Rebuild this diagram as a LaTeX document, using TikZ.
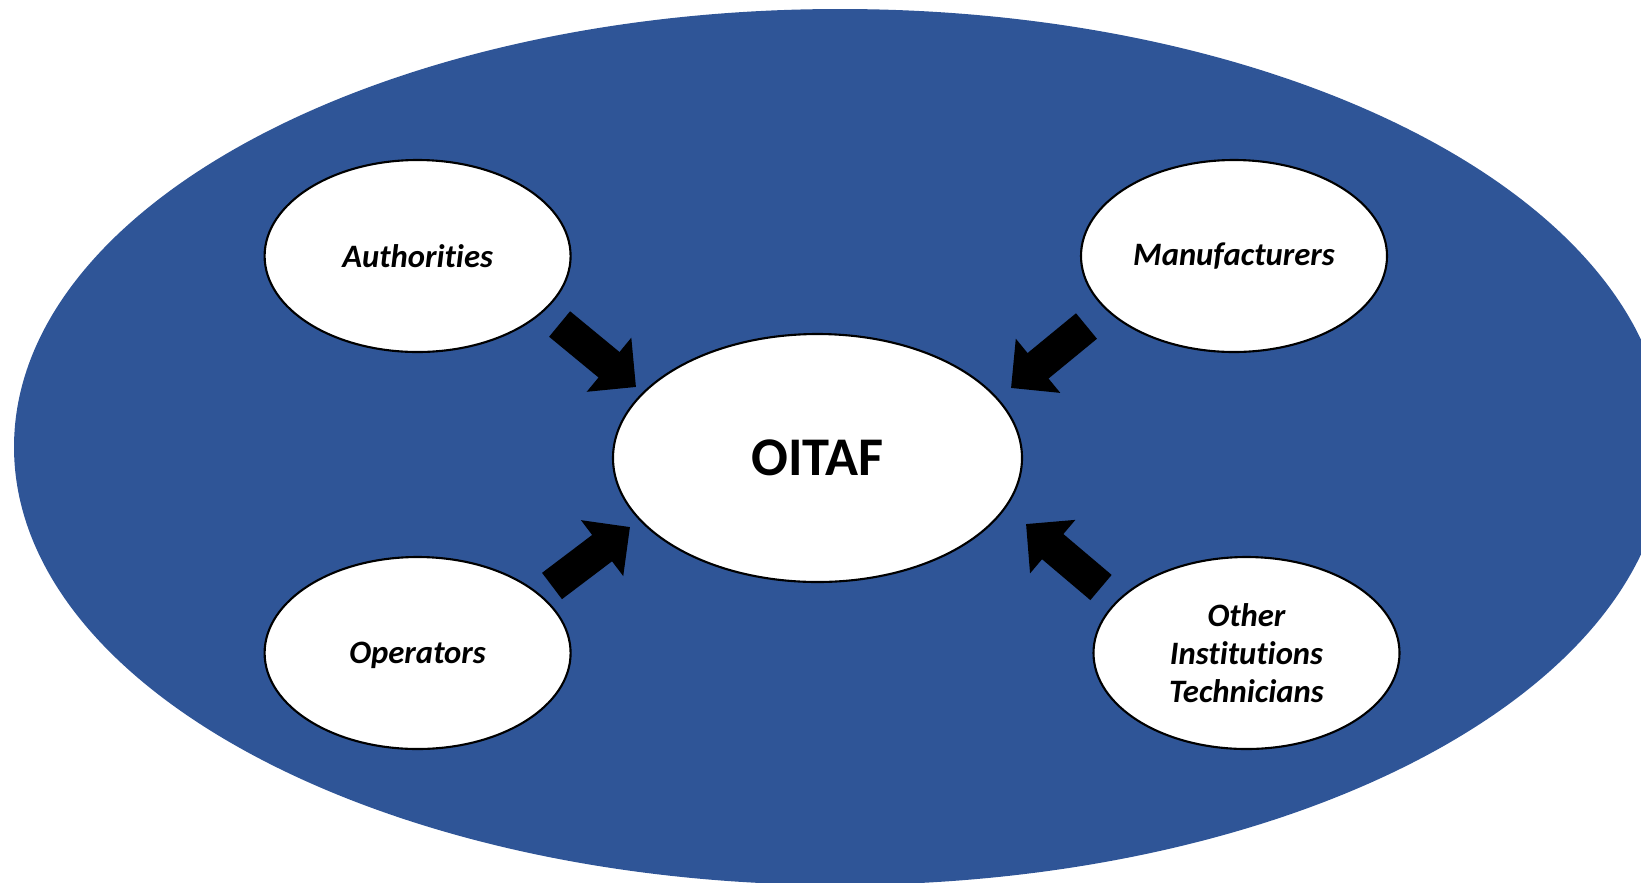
\documentclass[tikz,border=0pt]{standalone}
\usepackage{fontspec}
\setmainfont{Carlito}[Ligatures=NoCommon]
\usepackage{tikz}
\usetikzlibrary{arrows.meta,shapes.geometric}
\definecolor{slideblue}{HTML}{2F5597}

\tikzset{
  member/.style={ellipse,draw=black,line width=0.6pt,fill=white,inner sep=0pt,
    minimum width=3.06cm,minimum height=1.92cm,align=center,
    font=\fontsize{9.3}{10.8}\selectfont\bfseries\itshape},
  feed/.style={line width=0.33cm,-{Triangle[width=0.68cm,length=0.35cm]}}
}

\begin{document}
\begin{tikzpicture}[x=0.1mm,y=-0.1mm]
  \useasboundingbox (0,0) rectangle (1641,882);
  \clip (0,0) rectangle (1641,882);
  % background
  \fill[slideblue] (840,447) ellipse [x radius=8.26cm,y radius=4.38cm];

  \node[ellipse,draw=black,line width=0.6pt,fill=white,inner sep=0pt,
        minimum width=4.09cm,minimum height=2.48cm,
        font=\fontsize{15.5}{18}\selectfont\bfseries] (oitaf) at (817.5,458) {OITAF};

  \node[member] (auth)  at (417.6,256) {Authorities};
  \node[member] (manu)  at (1234,256)  {Manufacturers};
  \node[member,text depth=0pt] (oper) at (417.6,653) {Operators};
  \node[member] (other) at (1246.5,653) {Other\\Institutions\\Technicians};

  % arrows into the centre
  \draw[feed] ([shift={(142,68)}]auth.center)     -- ([shift={(-181.5,-71)}]oitaf.center);
  \draw[feed] ([shift={(-147.5,70)}]manu.center)  -- ([shift={(193.5,-70)}]oitaf.center);
  \draw[feed] ([shift={(134.4,-67)}]oper.center)  -- ([shift={(-187.5,69)}]oitaf.center);
  \draw[feed] ([shift={(-145.5,-65.5)}]other.center) -- ([shift={(208.5,66)}]oitaf.center);
\end{tikzpicture}
\end{document}
